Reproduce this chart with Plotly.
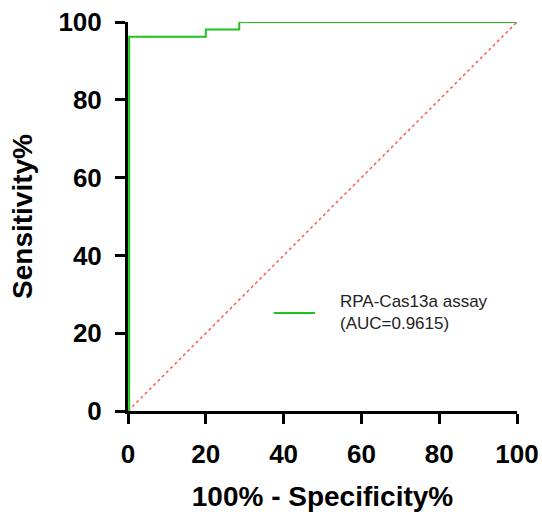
import plotly.graph_objects as go

# ROC curve step points (100% - Specificity%, Sensitivity%)
fpr = [0.3, 0.3, 20.0, 20.0, 28.6, 28.6, 100.0]
tpr = [0.0, 96.2, 96.2, 98.1, 98.1, 100.0, 100.0]
ref_x = [0, 100]
ref_y = [0, 100]
tick_vals = [0, 20, 40, 60, 80, 100]
series_label = "RPA-Cas13a assay<br>(AUC=0.9615)"

FONT = "Liberation Sans, Arial, sans-serif"
GREEN = "#1ec31e"

fig = go.Figure()
fig.add_trace(go.Scatter(x=ref_x, y=ref_y, mode="lines",
                         line=dict(color="#ff4d4d", width=1.4, dash="dot"),
                         showlegend=False, hoverinfo="skip"))
fig.add_trace(go.Scatter(x=fpr, y=tpr, mode="lines", name="RPA-Cas13a assay",
                         line=dict(color=GREEN, width=2), showlegend=False))

axis_common = dict(
    range=[0, 100], tickvals=tick_vals, showgrid=False, zeroline=False,
    showline=True, linecolor="black", linewidth=3, automargin=False,
    ticks="outside", ticklen=10, tickwidth=3, tickcolor="black",
    ticklabelstandoff=8, ticklabeloverflow="allow",
    tickfont=dict(family=FONT, size=26, color="black", weight="bold"),
)
fig.update_layout(
    width=542, height=512,
    margin=dict(l=128, r=25, t=22, b=101),
    plot_bgcolor="white", paper_bgcolor="white",
    xaxis=dict(**axis_common,
               title=dict(text="100% - Specificity%", standoff=22,
                          font=dict(family=FONT, size=28, color="black", weight="bold"))),
    yaxis=dict(**axis_common,
               title=dict(text="Sensitivity%", standoff=18,
                          font=dict(family=FONT, size=28, color="black", weight="bold"))),
    showlegend=False,
)
# legend (drawn as key line + text)
fig.add_shape(type="line", xref="paper", yref="paper", x0=0.375, x1=0.481, y0=0.252, y1=0.252,
              line=dict(color=GREEN, width=2))
fig.add_annotation(xref="paper", yref="paper", x=0.54, y=0.254, xanchor="left", yanchor="middle",
                   text=series_label, showarrow=False, align="left",
                   font=dict(family=FONT, size=17, color="#222"))
fig.write_html("out.html", config={"displayModeBar": False},
               post_script="document.body.style.margin='0';document.body.style.overflow='hidden';")
